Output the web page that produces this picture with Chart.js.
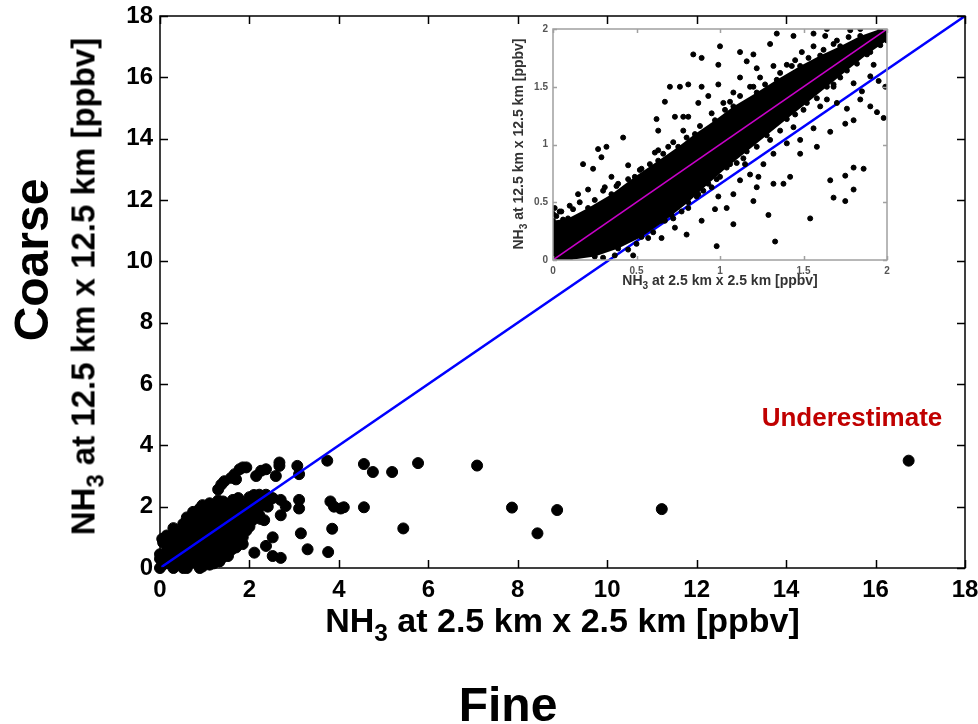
<!DOCTYPE html>
<html>
<head>
<meta charset="utf-8">
<script src="https://cdn.jsdelivr.net/npm/chart.js@4.4.1/dist/chart.umd.min.js"></script>
<style>
  body { margin: 0; background: #fff; }
  #wrap { position: relative; width: 978px; height: 724px; overflow: hidden; font-family: "Liberation Sans", Arial, sans-serif; }
  canvas { position: absolute; }
  .lbl { position: absolute; font-weight: bold; line-height: 1; white-space: nowrap; text-align: center; }
  .lbl sub { font-size: 0.72em; vertical-align: -0.38em; line-height: 0; }
  .rot { transform: rotate(-90deg); }
</style>
</head>
<body>
<div id="wrap">
  <canvas id="mainChart" width="978" height="724" style="left:0;top:0"></canvas>
  <canvas id="insetChart" width="400" height="280" style="left:500px;top:20px"></canvas>

  <div class="lbl" style="left:160px;top:603px;width:805px;font-size:34px;color:#000">NH<sub>3</sub> at 2.5 km x 2.5 km [ppbv]</div>
  <div class="lbl" style="left:408px;top:681px;width:200px;font-size:48px;color:#000">Fine</div>
  <div class="lbl rot" style="left:-217px;top:270px;width:600px;height:33px;font-size:33px;color:#000">NH<sub>3</sub> at 12.5 km x 12.5 km [ppbv]</div>
  <div class="lbl rot" style="left:-168px;top:236px;width:400px;height:48px;font-size:48px;color:#000">Coarse</div>
  <div class="lbl" style="left:752px;top:404px;width:200px;font-size:26px;color:#c00000">Underestimate</div>

  <div class="lbl" style="left:553px;top:273px;width:334px;font-size:14px;color:#333">NH<sub>3</sub> at 2.5 km x 2.5 km [ppbv]</div>
  <div class="lbl rot" style="left:368px;top:137px;width:300px;height:14px;font-size:14px;color:#333">NH<sub>3</sub> at 12.5 km x 12.5 km [ppbv]</div>
</div>

<script>
// axis ticks
const mainTicks = [0, 2, 4, 6, 8, 10, 12, 14, 16, 18];
const insetTicks = [0, 0.5, 1, 1.5, 2];

// 1:1 reference line
const oneToOne = [{x: 0, y: 0}, {x: 18, y: 18}];
const insetOneToOne = [{x: 0, y: 0}, {x: 2, y: 2}];

// outline of the dense cloud of 2.5 km vs 12.5 km values (main panel)
const mainCore = [
  {x: 0, y: 0}, {x: 0, y: 0.45}, {x: 0.07, y: 0.83}, {x: 0.15, y: 1.06}, {x: 0.52, y: 1.44},
  {x: 0.74, y: 1.83}, {x: 0.89, y: 1.94}, {x: 1.11, y: 2.11}, {x: 1.41, y: 2.17}, {x: 1.63, y: 2.22},
  {x: 2.0, y: 2.31}, {x: 2.22, y: 2.39}, {x: 2.37, y: 2.39}, {x: 2.41, y: 2.0}, {x: 2.22, y: 1.72},
  {x: 2.07, y: 1.56}, {x: 1.93, y: 1.22}, {x: 1.78, y: 0.89}, {x: 1.63, y: 0.67}, {x: 1.48, y: 0.56},
  {x: 1.33, y: 0.22}, {x: 1.11, y: 0.11}, {x: 0.89, y: 0.0}, {x: 0.52, y: 0}
];

// individual grid cells (main panel)
const mainPts = [
  {x: 0.05, y: 0.95}, {x: 0.3, y: 1.3}, {x: 0.6, y: 1.65}, {x: 0.95, y: 2.05}, {x: 1.3, y: 2.2},
  {x: 1.75, y: 2.28}, {x: 2.1, y: 2.38}, {x: 2.45, y: 2.3}, {x: 2.4, y: 2.1}, {x: 2.25, y: 1.6},
  {x: 2.0, y: 1.35}, {x: 1.85, y: 1.0}, {x: 1.6, y: 0.6}, {x: 1.4, y: 0.35}, {x: 1.2, y: 0.15},
  {x: 0.95, y: 0.05}, {x: 0.6, y: 0.0}, {x: 0.3, y: 0.0}, {x: 0.05, y: 0.1}, {x: 0.0, y: 0.3},
  {x: 1.3, y: 2.56}, {x: 1.37, y: 2.72}, {x: 1.44, y: 2.83}, {x: 1.59, y: 2.94}, {x: 1.67, y: 3.06},
  {x: 1.78, y: 3.22}, {x: 1.85, y: 3.28}, {x: 1.93, y: 3.28}, {x: 1.7, y: 2.89},
  {x: 2.15, y: 3.0}, {x: 2.26, y: 3.17}, {x: 2.37, y: 3.22}, {x: 2.67, y: 3.33}, {x: 2.67, y: 3.44},
  {x: 2.59, y: 3.0}, {x: 3.07, y: 3.33}, {x: 3.11, y: 3.06}, {x: 3.74, y: 3.5}, {x: 4.56, y: 3.39},
  {x: 4.76, y: 3.13}, {x: 5.19, y: 3.13}, {x: 5.77, y: 3.42}, {x: 7.09, y: 3.34},
  {x: 3.81, y: 2.17}, {x: 3.89, y: 2.0}, {x: 4.04, y: 1.94}, {x: 4.11, y: 1.98}, {x: 4.56, y: 1.98},
  {x: 3.11, y: 2.22}, {x: 3.11, y: 1.94}, {x: 2.52, y: 2.28}, {x: 2.7, y: 2.22}, {x: 2.81, y: 2.02},
  {x: 2.7, y: 1.72}, {x: 2.33, y: 1.56}, {x: 3.85, y: 1.28}, {x: 5.44, y: 1.29}, {x: 3.15, y: 1.13},
  {x: 2.52, y: 1.0}, {x: 2.37, y: 0.72}, {x: 2.11, y: 0.5}, {x: 3.3, y: 0.61}, {x: 3.76, y: 0.52},
  {x: 2.52, y: 0.39}, {x: 2.7, y: 0.33}, {x: 1.52, y: 0.39}, {x: 1.7, y: 0.67}, {x: 1.85, y: 0.78},
  {x: 1.33, y: 0.22}, {x: 7.87, y: 1.97}, {x: 8.44, y: 1.13}, {x: 8.88, y: 1.89}, {x: 11.22, y: 1.92},
  {x: 16.74, y: 3.5}
];

// dense band of the zoomed panel (0-2 ppbv)
const insetCore = [
  {x: 0, y: 0.34}, {x: 0.09, y: 0.36}, {x: 0.21, y: 0.45}, {x: 0.35, y: 0.57}, {x: 0.49, y: 0.72},
  {x: 0.63, y: 0.86}, {x: 0.75, y: 0.98}, {x: 0.85, y: 1.09}, {x: 0.97, y: 1.21}, {x: 1.08, y: 1.33},
  {x: 1.22, y: 1.45}, {x: 1.34, y: 1.56}, {x: 1.48, y: 1.68}, {x: 1.6, y: 1.77}, {x: 1.72, y: 1.85},
  {x: 1.84, y: 1.94}, {x: 1.96, y: 2.0}, {x: 2, y: 2}, {x: 2, y: 1.9}, {x: 1.88, y: 1.78},
  {x: 1.76, y: 1.64}, {x: 1.64, y: 1.5}, {x: 1.52, y: 1.36}, {x: 1.4, y: 1.22}, {x: 1.28, y: 1.08},
  {x: 1.16, y: 0.94}, {x: 1.04, y: 0.8}, {x: 0.93, y: 0.66}, {x: 0.81, y: 0.5}, {x: 0.67, y: 0.34},
  {x: 0.53, y: 0.2}, {x: 0.39, y: 0.1}, {x: 0.25, y: 0.03}, {x: 0.1, y: 0.0}, {x: 0, y: 0}
];

// scattered cells of the zoomed panel
const insetPts = [
  {x: 0.18, y: 0.83}, {x: 0.24, y: 0.79}, {x: 0.27, y: 0.96}, {x: 0.32, y: 0.98}, {x: 0.29, y: 0.89},
  {x: 0.42, y: 1.06}, {x: 0.45, y: 0.82}, {x: 0.35, y: 0.72}, {x: 0.21, y: 0.61}, {x: 0.15, y: 0.57},
  {x: 0.31, y: 0.63}, {x: 0.1, y: 0.47}, {x: 0.39, y: 0.66}, {x: 0.53, y: 0.79}, {x: 0.57, y: 0.72},
  {x: 0.62, y: 1.22}, {x: 0.67, y: 1.37}, {x: 0.78, y: 1.24}, {x: 0.84, y: 1.78}, {x: 0.89, y: 1.75},
  {x: 0.81, y: 1.52}, {x: 0.89, y: 1.5}, {x: 0.99, y: 1.69}, {x: 1.0, y: 1.85}, {x: 1.08, y: 1.45},
  {x: 1.02, y: 1.36}, {x: 0.93, y: 1.42}, {x: 0.76, y: 1.5}, {x: 0.7, y: 1.5}, {x: 0.78, y: 1.12},
  {x: 0.69, y: 0.98}, {x: 0.61, y: 0.93}, {x: 0.87, y: 0.92}, {x: 0.91, y: 1.09}, {x: 1.34, y: 1.96},
  {x: 1.44, y: 1.94}, {x: 1.56, y: 1.96}, {x: 1.63, y: 1.94}, {x: 1.64, y: 2.0}, {x: 1.84, y: 2.0},
  {x: 1.3, y: 1.87}, {x: 1.2, y: 1.78}, {x: 1.12, y: 1.8}, {x: 1.32, y: 1.68}, {x: 1.4, y: 1.69},
  {x: 1.43, y: 1.68}, {x: 1.24, y: 1.58}, {x: 1.22, y: 1.66}, {x: 1.12, y: 1.58}, {x: 1.56, y: 1.85},
  {x: 1.68, y: 1.87}, {x: 1.49, y: 1.8}, {x: 1.78, y: 1.99}, {x: 1.06, y: 1.37}, {x: 1.2, y: 1.5},
  {x: 1.16, y: 1.72}, {x: 0.99, y: 1.52}, {x: 0.87, y: 1.36}, {x: 0.81, y: 1.24}, {x: 0.73, y: 1.24},
  {x: 0.63, y: 0.95}, {x: 0.63, y: 1.12},
  {x: 0.98, y: 0.12}, {x: 0.48, y: 0.04}, {x: 0.37, y: 0.04}, {x: 0.57, y: 0.19}, {x: 0.65, y: 0.19},
  {x: 0.73, y: 0.28}, {x: 0.8, y: 0.22}, {x: 0.89, y: 0.34}, {x: 0.97, y: 0.44}, {x: 0.99, y: 0.55},
  {x: 1.08, y: 0.57}, {x: 1.12, y: 0.69}, {x: 1.04, y: 0.45}, {x: 1.18, y: 0.74}, {x: 1.23, y: 0.72},
  {x: 1.22, y: 0.63}, {x: 1.32, y: 0.66}, {x: 1.29, y: 0.39}, {x: 1.33, y: 0.16}, {x: 1.38, y: 0.66},
  {x: 1.42, y: 0.72}, {x: 1.54, y: 0.36}, {x: 1.68, y: 0.54}, {x: 1.75, y: 0.73}, {x: 1.75, y: 0.51},
  {x: 1.8, y: 0.61}, {x: 1.66, y: 0.69}, {x: 1.86, y: 0.79}, {x: 1.8, y: 0.8}, {x: 1.48, y: 0.92},
  {x: 1.58, y: 0.98}, {x: 1.66, y: 1.11}, {x: 1.8, y: 1.21}, {x: 1.75, y: 1.18}, {x: 1.76, y: 1.31},
  {x: 1.85, y: 1.46}, {x: 1.95, y: 1.55}, {x: 1.98, y: 1.23}, {x: 1.94, y: 1.28}, {x: 1.9, y: 1.33},
  {x: 1.84, y: 1.39}, {x: 1.7, y: 1.36}, {x: 1.64, y: 1.39}, {x: 1.6, y: 1.33}, {x: 1.56, y: 1.14},
  {x: 1.44, y: 1.15}, {x: 1.4, y: 1.01}, {x: 1.32, y: 0.92}, {x: 1.26, y: 0.83}, {x: 1.15, y: 0.83},
  {x: 1.12, y: 0.95}, {x: 1.06, y: 0.83}, {x: 1.0, y: 0.72}, {x: 0.95, y: 0.63}, {x: 0.87, y: 0.57},
  {x: 0.81, y: 0.45}, {x: 0.71, y: 0.39}, {x: 0.65, y: 0.34}, {x: 1.08, y: 0.31}, {x: 1.2, y: 0.51},
  {x: 1.99, y: 1.5}, {x: 1.92, y: 1.69}, {x: 1.8, y: 1.53}, {x: 1.9, y: 1.59}, {x: 1.68, y: 1.5},
  {x: 1.48, y: 1.04}, {x: 0.0, y: 0.4}, {x: 0.01, y: 0.45}, {x: 0.02, y: 0.38}, {x: 0.04, y: 0.42},
  {x: 0.06, y: 0.35}, {x: 0.03, y: 0.3},
  // cells hugging the band edges
  {x: 0.05, y: 0.42}, {x: 0.12, y: 0.44}, {x: 0.16, y: 0.5}, {x: 0.25, y: 0.52}, {x: 0.3, y: 0.6},
  {x: 0.38, y: 0.64}, {x: 0.45, y: 0.7}, {x: 0.52, y: 0.78}, {x: 0.58, y: 0.83}, {x: 0.66, y: 0.92},
  {x: 0.72, y: 1.02}, {x: 0.8, y: 1.06}, {x: 0.88, y: 1.16}, {x: 0.95, y: 1.27}, {x: 1.03, y: 1.3},
  {x: 1.12, y: 1.42}, {x: 1.18, y: 1.5}, {x: 1.27, y: 1.52}, {x: 1.36, y: 1.62}, {x: 1.45, y: 1.73},
  {x: 1.53, y: 1.75}, {x: 1.62, y: 1.82}, {x: 1.7, y: 1.9}, {x: 1.77, y: 1.93},
  {x: 0.3, y: 0.02}, {x: 0.45, y: 0.09}, {x: 0.5, y: 0.14}, {x: 0.6, y: 0.24}, {x: 0.72, y: 0.36},
  {x: 0.77, y: 0.42}, {x: 0.86, y: 0.55}, {x: 0.9, y: 0.6}, {x: 0.98, y: 0.7}, {x: 1.1, y: 0.84},
  {x: 1.14, y: 0.88}, {x: 1.22, y: 0.98}, {x: 1.3, y: 1.04}, {x: 1.36, y: 1.12}, {x: 1.45, y: 1.26},
  {x: 1.5, y: 1.3}, {x: 1.58, y: 1.4}, {x: 1.68, y: 1.52}, {x: 1.72, y: 1.58}, {x: 1.82, y: 1.7},
  {x: 1.9, y: 1.8}, {x: 1.96, y: 1.86}
];

// fills the outline of a dataset flagged with `cloud` using the points the scales placed
const cloudFill = {
  id: 'cloudFill',
  beforeDatasetDraw(chart, args) {
    const ds = chart.data.datasets[args.index];
    if (!ds.cloud) return;
    const {ctx, chartArea: a} = chart;
    const pts = args.meta.data;
    ctx.save();
    ctx.beginPath();
    ctx.rect(a.left - 6, a.top, a.right - a.left + 6, a.bottom - a.top + 6);
    ctx.clip();
    ctx.beginPath();
    pts.forEach((p, i) => i ? ctx.lineTo(p.x, p.y) : ctx.moveTo(p.x, p.y));
    ctx.closePath();
    ctx.fillStyle = ds.backgroundColor;
    ctx.fill();
    ctx.restore();
  }
};

// box around the plot area with inward ticks on all four sides
const boxTicks = {
  id: 'boxTicks',
  afterDatasetsDraw(chart, args, opts) {
    const {ctx, chartArea: a, scales: {x, y}} = chart;
    ctx.save();
    ctx.strokeStyle = opts.color;
    ctx.lineWidth = opts.width;
    ctx.beginPath();
    x.ticks.forEach(t => {
      const px = Math.round(x.getPixelForValue(t.value)) + 0.5;
      ctx.moveTo(px, a.bottom); ctx.lineTo(px, a.bottom - opts.length);
      ctx.moveTo(px, a.top); ctx.lineTo(px, a.top + opts.length);
    });
    y.ticks.forEach(t => {
      const py = Math.round(y.getPixelForValue(t.value)) + 0.5;
      ctx.moveTo(a.left, py); ctx.lineTo(a.left + opts.length, py);
      ctx.moveTo(a.right, py); ctx.lineTo(a.right - opts.length, py);
    });
    ctx.stroke();
    ctx.strokeRect(a.left, a.top, a.right - a.left, a.bottom - a.top);
    ctx.restore();
  }
};

function axis(ticks, max, font, color, pad, size, isX) {
  return {
    type: 'linear', min: 0, max: max,
    afterBuildTicks: s => { s.ticks = ticks.map(v => ({value: v})); },
    afterFit: s => {
      if (isX) s.height = size; else s.width = size;
      s.paddingLeft = s.paddingRight = s.paddingTop = s.paddingBottom = 0;
    },
    grid: {display: false, drawTicks: false},
    border: {display: false},
    ticks: {font: font, color: color, padding: pad, maxRotation: 0, autoSkip: false,
            callback: v => String(v)}
  };
}

const FONT = '"Liberation Sans", Arial, sans-serif';

new Chart(document.getElementById('mainChart'), {
  type: 'scatter',
  data: {
    datasets: [
      {data: oneToOne, showLine: true, borderColor: '#0000ff', borderWidth: 2.5, pointRadius: 0},
      {data: mainPts, backgroundColor: '#000', borderColor: '#000', pointRadius: 5.5, clip: false},
      {data: mainCore, cloud: true, backgroundColor: '#000', borderColor: '#000', pointRadius: 5.5, clip: false}
    ]
  },
  options: {
    responsive: false,
    animation: false,
    events: [],
    layout: {padding: {left: 100, right: 13, top: 16, bottom: 111}},
    plugins: {legend: {display: false}, tooltip: {enabled: false},
              boxTicks: {color: '#000', width: 1.5, length: 8}},
    scales: {
      x: axis(mainTicks, 18, {family: FONT, size: 24, weight: 'bold'}, '#000', 8, 45, true),
      y: axis(mainTicks, 18, {family: FONT, size: 24, weight: 'bold'}, '#000', 7, 60, false)
    }
  },
  plugins: [cloudFill, boxTicks]
});

new Chart(document.getElementById('insetChart'), {
  type: 'scatter',
  data: {
    datasets: [
      {data: insetOneToOne, showLine: true, borderColor: '#c800c8', borderWidth: 1.5, pointRadius: 0},
      {data: insetPts, backgroundColor: '#000', borderColor: '#000', pointRadius: 2.5},
      {data: insetCore, cloud: true, backgroundColor: '#000', borderColor: '#000', pointRadius: 2.5}
    ]
  },
  options: {
    responsive: false,
    animation: false,
    events: [],
    layout: {padding: {left: 28, right: 13, top: 9, bottom: 20}},
    plugins: {legend: {display: false}, tooltip: {enabled: false},
              boxTicks: {color: '#a0a0a0', width: 1.5, length: 4}},
    scales: {
      x: axis(insetTicks, 2, {family: FONT, size: 10, weight: 'bold'}, '#555', 5, 20, true),
      y: axis(insetTicks, 2, {family: FONT, size: 10, weight: 'bold'}, '#555', 5, 25, false)
    }
  },
  plugins: [cloudFill, boxTicks]
});
</script>
</body>
</html>
